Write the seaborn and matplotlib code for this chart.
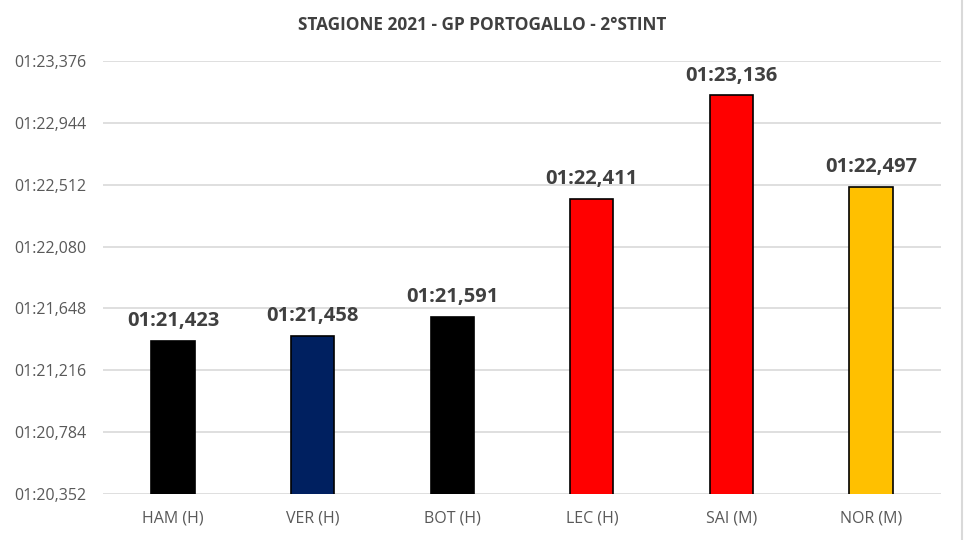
import matplotlib
matplotlib.use('Agg')
import matplotlib.pyplot as plt
import seaborn as sns
import pandas as pd
from matplotlib.ticker import FuncFormatter

# dati: tempo medio sul giro (secondi)
piloti = ["HAM (H)", "VER (H)", "BOT (H)", "LEC (H)", "SAI (M)", "NOR (M)"]
tempi = [81.423, 81.458, 81.591, 82.411, 83.136, 82.497]
colori = ["#000000", "#002060", "#000000", "#FF0000", "#FF0000", "#FFC000"]
tick_vals = [80.352, 80.784, 81.216, 81.648, 82.080, 82.512, 82.944, 83.376]


def fmt_tempo(v, pos=None):
    minuti = int(v // 60)
    sec = v - minuti * 60
    s = f"{sec:06.3f}".replace(".", ",")
    return f"{minuti:02d}:{s}"


df = pd.DataFrame({"Pilota": piloti, "Tempo": tempi})

sns.set_style("white")
plt.rcParams['font.family'] = ['Open Sans', 'DejaVu Sans']

fig = plt.figure(figsize=(9.64, 5.4), dpi=100)
ax = fig.add_axes([0.107, 0.085, 0.869, 0.802])

sns.barplot(data=df, x="Pilota", y="Tempo", hue="Pilota", palette=colori,
            saturation=1, width=0.31, edgecolor="black", linewidth=1.2,
            legend=False, ax=ax)

ax.set_ylim(tick_vals[0], tick_vals[-1])
ax.set_yticks(tick_vals)
ax.yaxis.set_major_formatter(FuncFormatter(fmt_tempo))
ax.set_xlim(-0.5, len(piloti) - 0.5)
ax.grid(axis="y", color="#D9D9D9", linewidth=1.2)
ax.set_axisbelow(True)
for s in ax.spines.values():
    s.set_visible(False)
ax.tick_params(axis="both", length=0, colors="#595959", labelsize=11.5)
ax.tick_params(axis="y", pad=12)
ax.tick_params(axis="x", pad=12)
ax.set_xlabel("")
ax.set_ylabel("")

for i, t in enumerate(tempi):
    ax.annotate(fmt_tempo(t), (i, t), xytext=(0, 7), textcoords="offset points",
                ha="center", va="bottom", fontsize=14.5, fontweight="bold",
                color="#404040")

fig.suptitle("STAGIONE 2021 - GP PORTOGALLO - 2°STINT", y=0.97, fontsize=12.4,
             fontweight="bold", color="#404040")

# bordo grafico stile Excel
fig.add_artist(plt.Line2D([0.998, 0.998], [0, 1], color="#D9D9D9", linewidth=1.5,
                          transform=fig.transFigure))

fig.savefig("out.png", dpi=100)
